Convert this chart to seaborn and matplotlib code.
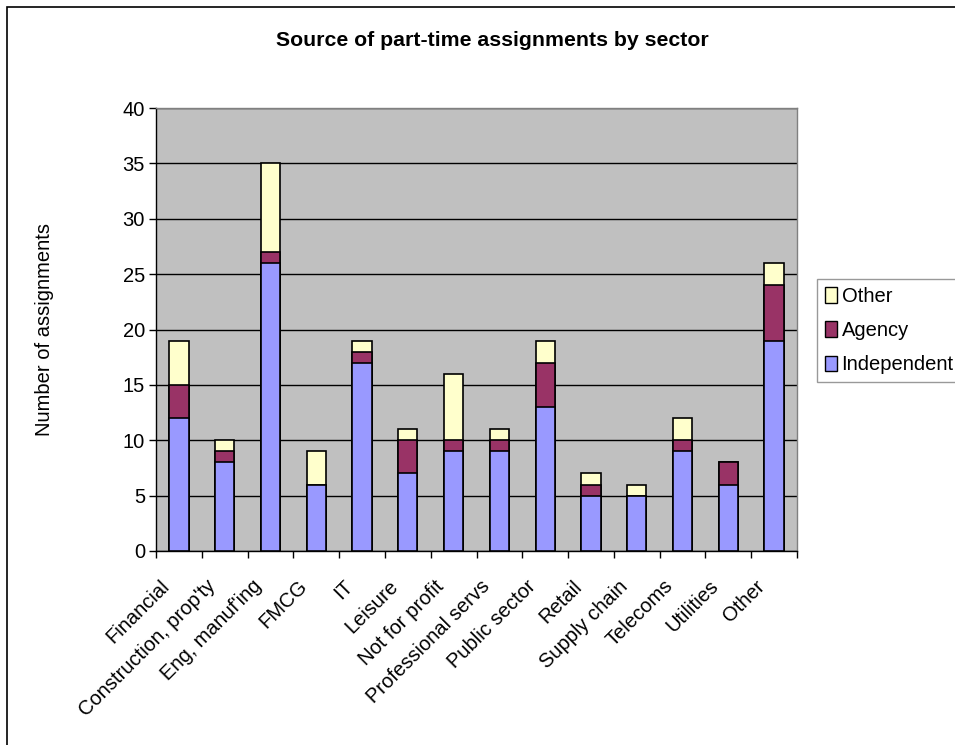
import matplotlib
matplotlib.use("Agg")
import matplotlib.pyplot as plt
from matplotlib.patches import Rectangle, Patch
from matplotlib.transforms import ScaledTranslation
import numpy as np
import pandas as pd
import seaborn as sns

sectors = ["Financial", "Construction, prop'ty", "Eng, manuf'ing", "FMCG", "IT",
           "Leisure", "Not for profit", "Professional servs", "Public sector",
           "Retail", "Supply chain", "Telecoms", "Utilities", "Other"]
independent = [12, 8, 26, 6, 17, 7, 9, 9, 13, 5, 5, 9, 6, 19]
agency = [3, 1, 1, 0, 1, 3, 1, 1, 4, 1, 0, 1, 2, 5]
other = [4, 1, 8, 3, 1, 1, 6, 1, 2, 1, 1, 2, 0, 2]

series_names = ["Independent", "Agency", "Other"]
series_colors = {"Independent": "#9999FF", "Agency": "#993366", "Other": "#FFFFCC"}

df = pd.DataFrame({"sector": sectors, "Independent": independent,
                   "Agency": agency, "Other": other})
# cumulative tops for stacking: draw tallest layer first, then overlay lower ones
df["top_Independent"] = df["Independent"]
df["top_Agency"] = df["Independent"] + df["Agency"]
df["top_Other"] = df["top_Agency"] + df["Other"]

sns.set_theme(style="white")
plt.rcParams["font.family"] = ["Liberation Sans", "DejaVu Sans"]
plt.rcParams.update({"text.color": "black", "axes.labelcolor": "black",
                     "xtick.color": "black", "ytick.color": "black"})

FS = 14.5
fig = plt.figure(figsize=(9.55, 7.45), dpi=100)
W, H = 955, 745
ax = fig.add_axes([156 / W, 1 - 551 / H, (797 - 156) / W, (551 - 108) / H])
ax.set_facecolor("#C0C0C0")

for name in reversed(series_names):
    sns.barplot(data=df, x="sector", y="top_" + name, color=series_colors[name],
                width=0.42, edgecolor="black", linewidth=1.2, saturation=1,
                ax=ax, zorder=3)

ax.set_ylim(0, 40)
ax.set_xlim(-0.5, len(sectors) - 0.5)
ax.set_yticks(np.arange(0, 41, 5))
ax.yaxis.grid(True, color="black", linewidth=1)
ax.set_axisbelow(True)
for s in ax.spines.values():
    s.set_color("#808080")
    s.set_linewidth(1)
ax.spines["left"].set_color("black")
ax.spines["bottom"].set_color("black")

ax.tick_params(axis="y", which="major", direction="out", length=5, width=1,
               color="black", labelsize=FS, pad=3, left=True)
ax.set_xticks(np.arange(len(sectors)))
ax.set_xticklabels(sectors, rotation=45, ha="right", va="top",
                   rotation_mode="anchor", fontsize=FS)
ax.tick_params(axis="x", which="major", length=0, pad=9)
shift = ScaledTranslation(-19 / 100, -13 / 100, fig.dpi_scale_trans)
for lab in ax.get_xticklabels():
    lab.set_transform(lab.get_transform() + shift)
ax.set_xticks(np.arange(len(sectors) + 1) - 0.5, minor=True)
ax.tick_params(axis="x", which="minor", direction="out", length=5, width=1,
               color="black", bottom=True)

ax.set_xlabel("")
ax.set_ylabel("Number of assignments", fontsize=FS)
ax.yaxis.set_label_coords(-0.159, 0.5)

fig.text(492 / W, 1 - 41 / H, "Source of part-time assignments by sector",
         ha="center", va="center", fontsize=15.3, fontweight="bold")

handles = [Patch(facecolor=series_colors[n], edgecolor="black", linewidth=1)
           for n in reversed(series_names)]
leg = fig.legend(handles, list(reversed(series_names)), loc="upper left",
                 bbox_to_anchor=(817 / W, 1 - 279 / H), fontsize=FS,
                 frameon=True, fancybox=False, handlelength=0.6,
                 handleheight=0.8, handletextpad=0.22, labelspacing=0.75,
                 borderpad=0.4, borderaxespad=0)
leg.get_frame().set_edgecolor("#808080")
leg.get_frame().set_linewidth(1)

fig.patches.append(Rectangle((7 / W, -0.1), 1.2, 1 - 7 / H + 0.1,
                             transform=fig.transFigure, fill=False,
                             edgecolor="black", linewidth=1.2))

fig.savefig("out.png", dpi=100)
